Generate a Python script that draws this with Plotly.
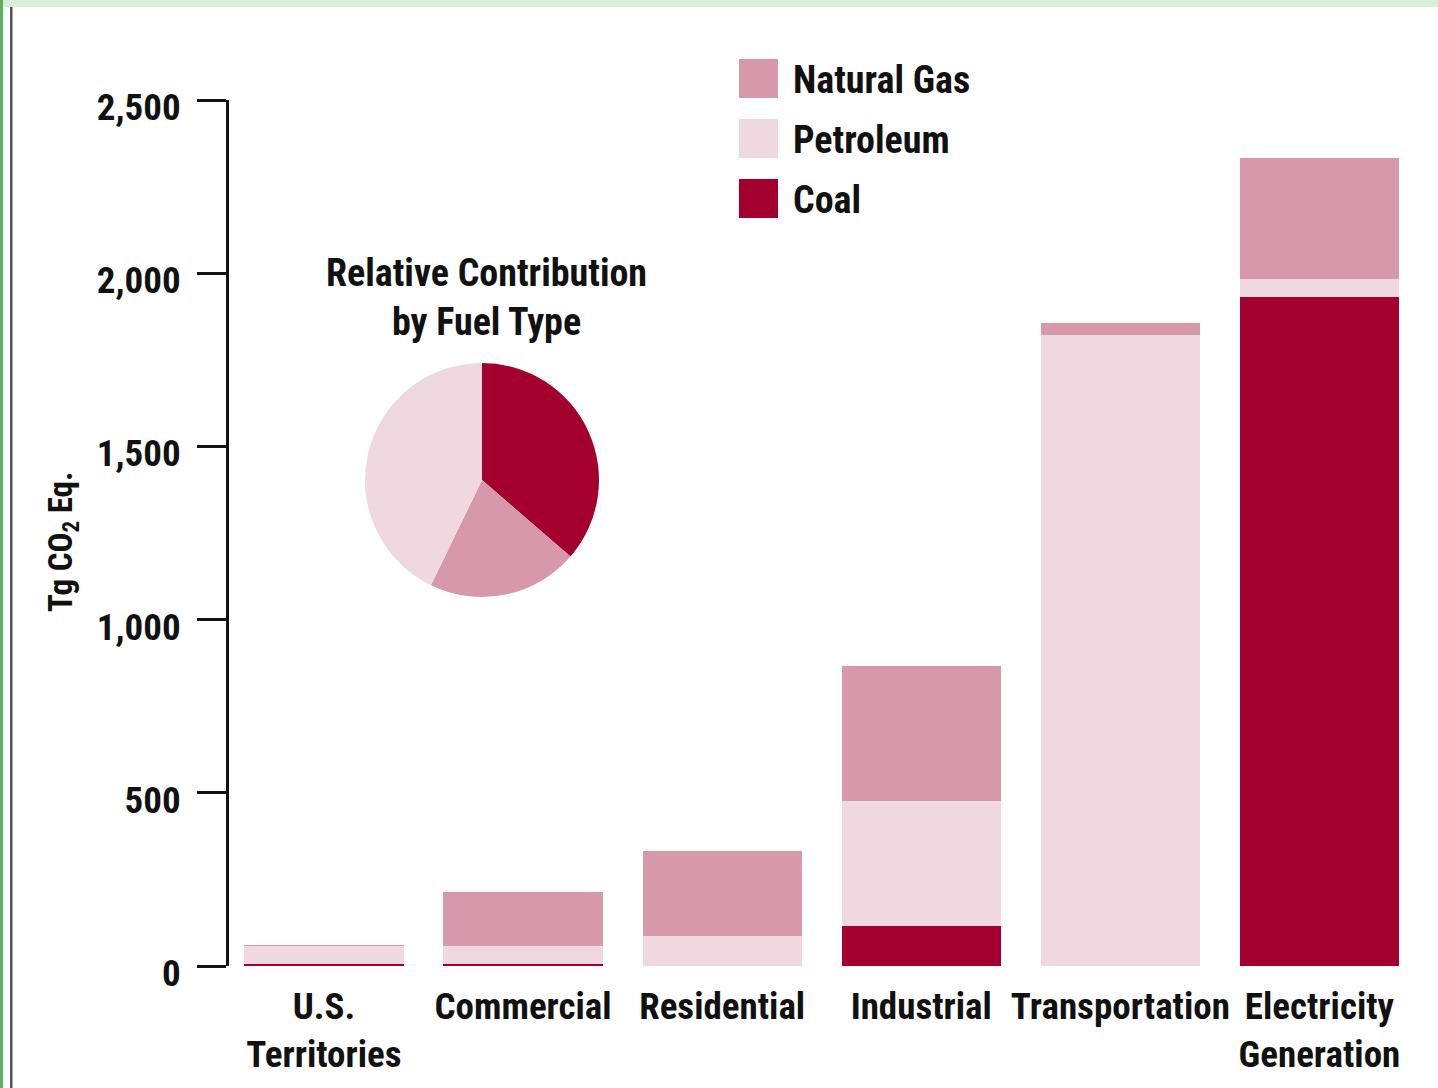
import plotly.graph_objects as go

# ---- data ----
categories = ["U.S.<br>Territories", "Commercial", "Residential", "Industrial",
              "Transportation", "Electricity<br>Generation"]
coal = [6, 6, 0, 116, 0, 1930]
petroleum = [52, 52, 87, 359, 1821, 52]
natural_gas = [1, 155, 246, 392, 34, 351]
series_names = ["Natural Gas", "Petroleum", "Coal"]
y_ticks = [0, 500, 1000, 1500, 2000, 2500]
y_tick_labels = ["0", "500", "1,000", "1,500", "2,000", "2,500"]

C_COAL = "#A30030"
C_PET = "#F0D8E0"
C_NG = "#D898AB"

W, H = 1438, 1088
FONT = "Liberation Sans Narrow, Roboto Condensed, Arial Narrow, sans-serif"

def px(x):
    return x / W

def py(y):
    return 1 - y / H

fig = go.Figure()
for name, vals, col in [("Coal", coal, C_COAL), ("Petroleum", petroleum, C_PET),
                        ("Natural Gas", natural_gas, C_NG)]:
    fig.add_trace(go.Bar(x=categories, y=vals, name=name, marker_color=col,
                         marker_line_width=0, showlegend=False))

pie_vals = [sum(coal), sum(natural_gas), sum(petroleum)]
fig.add_trace(go.Pie(values=pie_vals, labels=["Coal", "Natural Gas", "Petroleum"],
                     marker=dict(colors=[C_COAL, C_NG, C_PET], line=dict(width=0)),
                     sort=False, direction="clockwise", rotation=0,
                     textinfo="none", showlegend=False,
                     domain=dict(x=[px(365), px(599)], y=[py(597), py(363)])))

TF = dict(family=FONT, size=37, color="#111111", weight="bold")
fig.update_layout(
    width=W, height=H,
    margin=dict(l=0, r=0, t=0, b=0),
    paper_bgcolor="white", plot_bgcolor="white",
    barmode="stack", bargap=0.2,
    font=dict(family=FONT, size=37, color="#111111", weight="bold"),
    xaxis=dict(domain=[px(229), px(1419)], range=[-0.477, 5.5],
               showline=False, ticks="", showgrid=False, zeroline=False,
               automargin=False, ticklabelstandoff=15, tickfont=TF),
    yaxis=dict(domain=[py(966), py(100)], range=[0, 2500],
               tickvals=y_ticks, ticktext=y_tick_labels,
               showline=True, linecolor="#111111", linewidth=3,
               ticks="outside", ticklen=29, tickwidth=3, tickcolor="#111111",
               showgrid=False, zeroline=False, automargin=False,
               ticklabelstandoff=9, ticklabelshift=7, tickfont=TF),
)

shapes = []
annotations = []
# legend (manual)
legend_cols = {"Natural Gas": C_NG, "Petroleum": C_PET, "Coal": C_COAL}
for i, name in enumerate(series_names):
    y0 = 59 + i * 60
    shapes.append(dict(type="rect", xref="paper", yref="paper",
                       x0=px(739), x1=px(778), y0=py(y0 + 39), y1=py(y0),
                       fillcolor=legend_cols[name], line=dict(width=0)))
    annotations.append(dict(xref="paper", yref="paper", x=px(791), y=py(y0 + 21),
                            xanchor="left", yanchor="middle", text=name,
                            showarrow=False,
                            font=dict(family=FONT, size=38, color="#111111", weight="bold")))

# pie title
annotations.append(dict(xref="paper", yref="paper", x=px(486), y=py(297),
                        xanchor="center", yanchor="middle",
                        text="Relative Contribution<br>by Fuel Type", showarrow=False,
                        font=dict(family=FONT, size=38, color="#111111", weight="bold")))

# y axis title
annotations.append(dict(xref="paper", yref="paper", x=px(63), y=py(542),
                        xanchor="center", yanchor="middle", textangle=-90,
                        text="Tg CO<sub>2</sub> Eq.", showarrow=False,
                        font=dict(family=FONT, size=33, color="#111111", weight="bold")))

# frame decorations
shapes.append(dict(type="rect", xref="paper", yref="paper", x0=0, x1=1,
                   y0=py(7), y1=1, fillcolor="#D6EEDA", line=dict(width=0)))
shapes.append(dict(type="rect", xref="paper", yref="paper", x0=0, x1=px(3),
                   y0=0, y1=1, fillcolor="#5DB35D", line=dict(width=0)))
shapes.append(dict(type="rect", xref="paper", yref="paper", x0=px(10), x1=px(12.5),
                   y0=0, y1=py(7), fillcolor="#555555", line=dict(width=0)))

fig.update_layout(shapes=shapes, annotations=annotations)
fig.write_html("out.html", config={"displayModeBar": False},
               post_script="document.body.style.margin='0px';")
